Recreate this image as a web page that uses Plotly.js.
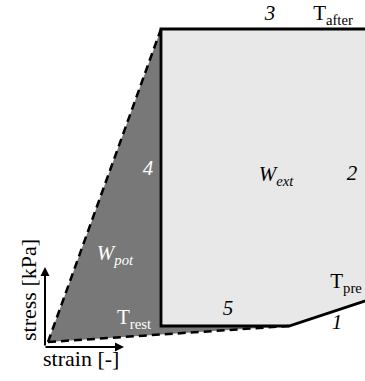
<!DOCTYPE html>
<html>
<head>
<meta charset="utf-8">
<script src="https://cdn.plot.ly/plotly-3.0.1.min.js"></script>
<style>html,body{margin:0;padding:0;background:#fff;}#chart{width:365px;height:381px;}</style>
</head>
<body>
<div id="chart"></div>
<script>
// Schematic work loop (arbitrary strain / stress units)
var originPt = [48, 39];          // unloaded state
var afterPt = [161, 352];         // T_after corner
var restPt = [161, 55];           // T_rest corner
var bendPt = [289, 55];           // start of segment 1
var rightTop = [420, 352];        // top line continues beyond view
var rightLow = [420, 98];         // segment 1 continues beyond view (T_pre)

var potX = [originPt[0], afterPt[0], restPt[0], bendPt[0], originPt[0]];
var potY = [originPt[1], afterPt[1], restPt[1], bendPt[1], originPt[1]];
var extX = [afterPt[0], rightTop[0], rightLow[0], bendPt[0], restPt[0], afterPt[0]];
var extY = [afterPt[1], rightTop[1], rightLow[1], bendPt[1], restPt[1], afterPt[1]];
var loopX = [rightTop[0], afterPt[0], restPt[0], bendPt[0], rightLow[0]];
var loopY = [rightTop[1], afterPt[1], restPt[1], bendPt[1], rightLow[1]];
var dashX1 = [originPt[0], afterPt[0]];
var dashY1 = [originPt[1], afterPt[1]];
var dashX2 = [originPt[0], bendPt[0]];
var dashY2 = [originPt[1], bendPt[1]];

var labelTexts = ['3', 'T<sub>after</sub>', '4', 'W<sub>ext</sub>', '2',
                  'W<sub>pot</sub>', 'T<sub>pre</sub>', 'T<sub>rest</sub>', '5', '1'];
var labelX = [270, 333, 148, 276, 352, 115, 346, 134, 228, 337];
var labelY = [366, 366, 211, 205, 206, 126, 98, 62, 71, 57];
var labelWhite = [false, false, true, false, false, true, false, true, false, false];
var labelItalic = [true, false, true, true, true, true, false, false, true, true];

var serif = '"Liberation Serif", "Times New Roman", Times, serif';

var traces = [
  {x: potX, y: potY, mode: 'lines', fill: 'toself', fillcolor: '#787878', line: {width: 0}, hoverinfo: 'skip'},
  {x: extX, y: extY, mode: 'lines', fill: 'toself', fillcolor: '#e8e8e8', line: {width: 0}, hoverinfo: 'skip'},
  {x: dashX1, y: dashY1, mode: 'lines', line: {color: '#000', width: 2.5, dash: '8px,5px'}, hoverinfo: 'skip'},
  {x: dashX2, y: dashY2, mode: 'lines', line: {color: '#000', width: 2.5, dash: '8px,5px'}, hoverinfo: 'skip'},
  {x: loopX, y: loopY, mode: 'lines', line: {color: '#000', width: 2.8}, hoverinfo: 'skip'},
  {x: labelX, y: labelY, text: labelTexts, mode: 'text', textposition: 'middle center', hoverinfo: 'skip',
   cliponaxis: false,
   textfont: {family: serif, size: 21,
              style: labelItalic.map(function (v) { return v ? 'italic' : 'normal'; }),
              color: labelWhite.map(function (v) { return v ? '#ffffff' : '#000000'; })}}
];

var annotations = [];
// axis arrows
annotations.push({x: 45, y: 114, ax: 45, ay: 34, xref: 'x', yref: 'y', axref: 'x', ayref: 'y', text: '',
  showarrow: true, arrowhead: 2, arrowsize: 0.9, arrowwidth: 2, arrowcolor: '#000'});
annotations.push({x: 124, y: 34, ax: 44, ay: 34, xref: 'x', yref: 'y', axref: 'x', ayref: 'y', text: '',
  showarrow: true, arrowhead: 2, arrowsize: 0.9, arrowwidth: 2, arrowcolor: '#000'});
annotations.push({x: 81, y: 23, xref: 'x', yref: 'y', text: 'strain [-]', showarrow: false,
  xanchor: 'center', yanchor: 'middle', font: {family: serif, size: 22, color: '#000'}});
annotations.push({x: 28, y: 91, xref: 'x', yref: 'y', text: 'stress [kPa]', showarrow: false, textangle: -90,
  xanchor: 'center', yanchor: 'middle', font: {family: serif, size: 22, color: '#000'}});

var layout = {
  width: 365, height: 381, autosize: false,
  margin: {l: 0, r: 0, t: 0, b: 0, pad: 0},
  paper_bgcolor: '#ffffff', plot_bgcolor: '#ffffff',
  showlegend: false,
  font: {family: serif},
  xaxis: {range: [0, 365], visible: false, fixedrange: true},
  yaxis: {range: [0, 381], visible: false, fixedrange: true},
  annotations: annotations
};

Plotly.newPlot('chart', traces, layout, {displayModeBar: false, staticPlot: true});
</script>
</body>
</html>
